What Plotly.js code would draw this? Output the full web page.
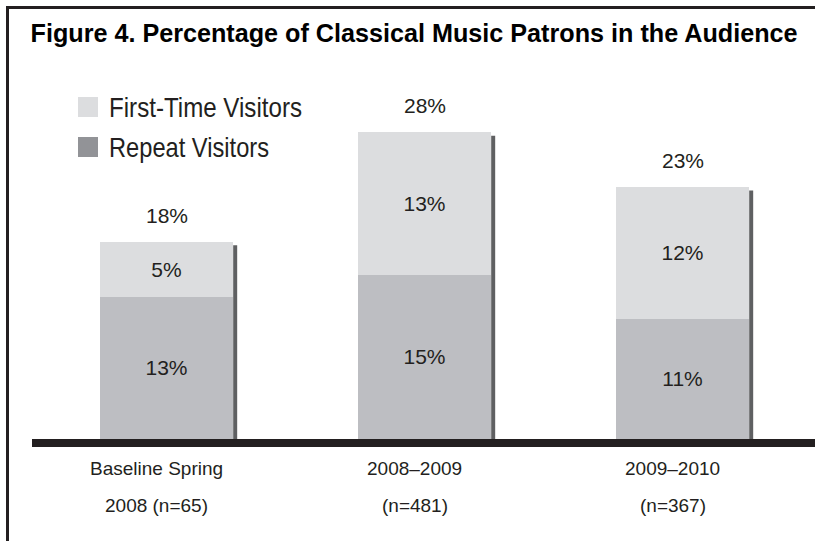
<!DOCTYPE html>
<html>
<head>
<meta charset="utf-8">
<script src="https://cdn.plot.ly/plotly-3.0.1.min.js"></script>
<style>
  html, body { margin: 0; padding: 0; background: #ffffff; }
  #wrap { position: relative; width: 815px; height: 541px; overflow: hidden; }
  #chart { position: absolute; left: 0; top: 0; width: 815px; height: 541px; }
  #frame { position: absolute; left: 6px; top: 6px; right: -10px; bottom: -10px;
           border-left: 3px solid #231f20; border-top: 3px solid #231f20; pointer-events: none; }
</style>
</head>
<body>
<div id="wrap">
  <div id="chart"></div>
  <div id="frame"></div>
</div>
<script>
// ---- data ----
var catLine1 = ['Baseline Spring', '2008\u20132009', '2009\u20132010'];
var catLine2 = ['2008 (n=65)', '(n=481)', '(n=367)'];
var repeatVisitors = [13, 15, 11];
var firstTimeVisitors = [5, 13, 12];
var totals = [18, 28, 23];
var seriesNames = ['First-Time Visitors', 'Repeat Visitors'];
var title = 'Figure 4. Percentage of Classical Music Patrons in the Audience';

// ---- style ----
var W = 815, H = 541;
var M = {l: 32, r: 0, t: 60, b: 102};
var PW = W - M.l - M.r, PH = H - M.t - M.b;
var colFirst = '#dcdddf', colRepeat = '#bdbec2', colRepeatLegend = '#929397';
var ink = '#231f20';
var barWidth = 0.517;
var xs = [0, 1, 2];
var sans = 'Liberation Sans, Arial, sans-serif';

function px2x(px) { return (px - M.l) / PW; }
function py2y(py) { return (H - M.b - py) / PH; }

var traces = [
  {
    type: 'bar', name: seriesNames[1], x: xs, y: repeatVisitors, width: barWidth,
    marker: {color: colRepeat, line: {width: 0}},
    texttemplate: '%{y}%', textposition: 'inside', insidetextanchor: 'middle',
    constraintext: 'none',
    textfont: {family: sans, size: 21, color: ink},
    hoverinfo: 'skip'
  },
  {
    type: 'bar', name: seriesNames[0], x: xs, y: firstTimeVisitors, width: barWidth,
    marker: {color: colFirst, line: {width: 0}},
    texttemplate: '%{y}%', textposition: 'inside', insidetextanchor: 'middle',
    constraintext: 'none',
    textfont: {family: sans, size: 21, color: ink},
    hoverinfo: 'skip'
  }
];

var shapes = [];
var annotations = [];

xs.forEach(function (x, i) {
  var top = repeatVisitors[i] + firstTimeVisitors[i];
  // bar shadow on the right edge
  shapes.push({
    type: 'rect', layer: 'below', xref: 'x', yref: 'y',
    xsizemode: 'pixel', xanchor: x + barWidth / 2, x0: 0, x1: 4,
    y0: 0, y1: top - 0.3,
    fillcolor: '#5f6062', line: {width: 0}
  });
  // total label above bar
  annotations.push({
    xref: 'x', yref: 'y', x: x, y: top, yanchor: 'bottom', yshift: 13,
    text: totals[i] + '%', showarrow: false,
    font: {family: sans, size: 21, color: ink}
  });
  // category labels (two rows)
  annotations.push({
    xref: 'x', yref: 'paper', x: x, y: 0, yanchor: 'middle', yshift: -29, xshift: -10,
    text: catLine1[i], showarrow: false,
    font: {family: sans, size: 19, color: ink}
  });
  annotations.push({
    xref: 'x', yref: 'paper', x: x, y: 0, yanchor: 'middle', yshift: -66, xshift: -10,
    text: catLine2[i], showarrow: false,
    font: {family: sans, size: 19, color: ink}
  });
});

// manual legend
var legendRows = [
  {name: seriesNames[0], color: colFirst, top: 97, len: 193},
  {name: seriesNames[1], color: colRepeatLegend, top: 137, len: 160}
];
legendRows.forEach(function (r) {
  shapes.push({
    type: 'rect', xref: 'paper', yref: 'paper',
    x0: px2x(78), x1: px2x(98), y0: py2y(r.top + 20), y1: py2y(r.top),
    fillcolor: r.color, line: {width: 0}
  });
  annotations.push({
    xref: 'paper', yref: 'paper', x: px2x(107), y: py2y(r.top + 10),
    xanchor: 'left', yanchor: 'middle', text: r.name, showarrow: false,
    font: {family: sans, size: 28, color: ink}
  });
});

var layout = {
  width: W, height: H,
  margin: M,
  paper_bgcolor: 'rgba(0,0,0,0)', plot_bgcolor: 'rgba(0,0,0,0)',
  barmode: 'stack', showlegend: false,
  title: {
    text: '<b>' + title + '</b>',
    x: 0.508, xanchor: 'center', xref: 'container',
    y: 1 - 33 / H, yanchor: 'middle', yref: 'container',
    font: {family: sans, size: 25, color: '#000000'}
  },
  xaxis: {
    range: [-(166.5 - M.l) / 258, -(166.5 - M.l) / 258 + PW / 258],
    showgrid: false, zeroline: false, showticklabels: false, ticks: '',
    showline: true, linecolor: ink, linewidth: 8, fixedrange: true
  },
  yaxis: {
    range: [0, PH / 10.95], visible: false, showgrid: false, zeroline: false, fixedrange: true
  },
  shapes: shapes,
  annotations: annotations
};

function condense(el, len) {
  // narrow the glyphs to match the condensed original typeface, keeping the left edge
  var w0 = el.getComputedTextLength();
  var anchor = el.getAttribute('text-anchor') || 'start';
  var x0 = parseFloat(el.getAttribute('x')) || 0;
  var left = anchor === 'middle' ? x0 - w0 / 2 : (anchor === 'end' ? x0 - w0 : x0);
  el.setAttribute('text-anchor', 'start');
  el.setAttribute('x', String(left));
  el.setAttribute('textLength', String(len));
  el.setAttribute('lengthAdjust', 'spacingAndGlyphs');
}

Plotly.newPlot('chart', traces, layout, {displayModeBar: false, staticPlot: true}).then(function (gd) {
  var t = gd.querySelector('.gtitle');
  if (t) { t.setAttribute('textLength', '767'); t.setAttribute('lengthAdjust', 'spacingAndGlyphs'); }
  gd.querySelectorAll('.annotation-text').forEach(function (el) {
    legendRows.forEach(function (r) {
      if (el.textContent === r.name) { condense(el, r.len); }
    });
  });
});
</script>
</body>
</html>
